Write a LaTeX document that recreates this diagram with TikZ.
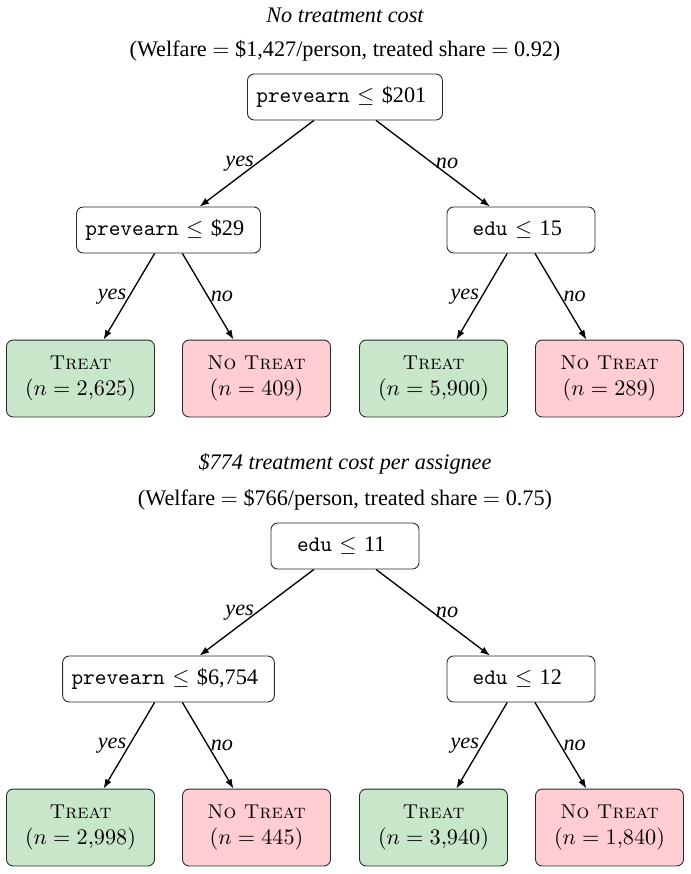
\documentclass[tikz,border=0pt]{standalone}
\usepackage{fontspec}
\newfontfamily\timesfont{Liberation Serif}
\usepackage{tikz}
\usetikzlibrary{
    arrows.meta,
    positioning
}
\definecolor{treatgreen}{HTML}{C8E6C9}
\definecolor{notreatred}{HTML}{FFCDD2}
\definecolor{boxline}{RGB}{40,40,40}

\begin{document}
\begin{tikzpicture}[
        x=0.45pt, y=-0.45pt,
        split/.style={
            draw=boxline,
            rounded corners=3pt,
            fill=white,
            align=center,
            minimum width=66.6pt,
            minimum height=20.7pt,
            inner xsep=4pt
        },
        treat/.style={
            split,
            fill=treatgreen,
            minimum height=34.6pt
        },
        notreat/.style={
            treat,
            fill=notreatred
        },
        heading/.style={
            font=\timesfont\itshape
        },
        subheading/.style={
            font=\timesfont
        },
        arrow/.style={
            -{Latex[length=1.5mm,width=1.1mm]},
            semithick
        },
        yeslabel/.style={
            midway, left, inner sep=1pt,
            font=\timesfont\itshape
        },
        nolabel/.style={
            midway, right, inner sep=1pt,
            font=\timesfont\itshape
        }
    ]
    \useasboundingbox (0,0) rectangle (690,874);

    % no treatment cost
    \node[heading] (title1) at (345,15) {No treatment cost};
    \node[subheading] (welfare1) at (345,51) {(Welfare $=$ \$1,427/person, treated share $=$ 0.92)};

    \node[split] (root1) at (345,97) {
        \texttt{prevearn} $\leq$ {\timesfont\$201}
    };
    \node[split] (earn1) at (168.5,230) {
        \texttt{prevearn} $\leq$ {\timesfont\$29}
    };
    \node[split] (edu1) at (521,230) {
        \texttt{edu} $\leq$ {\timesfont 15}
    };

    \node[treat] (leafa1) at (80.5,378.5) {{\small\textsc{Treat}}\\$(n = 2{,}625)$};
    \node[notreat] (leafb1) at (256.5,378.5) {{\small\textsc{No Treat}}\\$(n = 409)$};
    \node[treat] (leafc1) at (433.5,378.5) {{\small\textsc{Treat}}\\$(n = 5{,}900)$};
    \node[notreat] (leafd1) at (609.5,378.5) {{\small\textsc{No Treat}}\\$(n = 289)$};

    \draw[arrow] (root1) -- node[yeslabel] {yes} (earn1);
    \draw[arrow] (root1) -- node[nolabel] {no} (edu1);
    \draw[arrow] (earn1) -- node[yeslabel] {yes} (leafa1);
    \draw[arrow] (earn1) -- node[nolabel] {no} (leafb1);
    \draw[arrow] (edu1) -- node[yeslabel] {yes} (leafc1);
    \draw[arrow] (edu1) -- node[nolabel] {no} (leafd1);

    % $774 treatment cost
    \node[heading] (title2) at (345,464) {\$774 treatment cost per assignee};
    \node[subheading] (welfare2) at (345,500) {(Welfare $=$ \$766/person, treated share $=$ 0.75)};

    \node[split] (root2) at (345,546) {
        \texttt{edu} $\leq$ {\timesfont 11}
    };
    \node[split] (earn2) at (168.5,679) {
        \texttt{prevearn} $\leq$ {\timesfont\$6,754}
    };
    \node[split] (edu2) at (521,679) {
        \texttt{edu} $\leq$ {\timesfont 12}
    };

    \node[treat] (leafa2) at (80.5,827.5) {{\small\textsc{Treat}}\\$(n = 2{,}998)$};
    \node[notreat] (leafb2) at (256.5,827.5) {{\small\textsc{No Treat}}\\$(n = 445)$};
    \node[treat] (leafc2) at (433.5,827.5) {{\small\textsc{Treat}}\\$(n = 3{,}940)$};
    \node[notreat] (leafd2) at (609.5,827.5) {{\small\textsc{No Treat}}\\$(n = 1{,}840)$};

    \draw[arrow] (root2) -- node[yeslabel] {yes} (earn2);
    \draw[arrow] (root2) -- node[nolabel] {no} (edu2);
    \draw[arrow] (earn2) -- node[yeslabel] {yes} (leafa2);
    \draw[arrow] (earn2) -- node[nolabel] {no} (leafb2);
    \draw[arrow] (edu2) -- node[yeslabel] {yes} (leafc2);
    \draw[arrow] (edu2) -- node[nolabel] {no} (leafd2);

\end{tikzpicture}
\end{document}
